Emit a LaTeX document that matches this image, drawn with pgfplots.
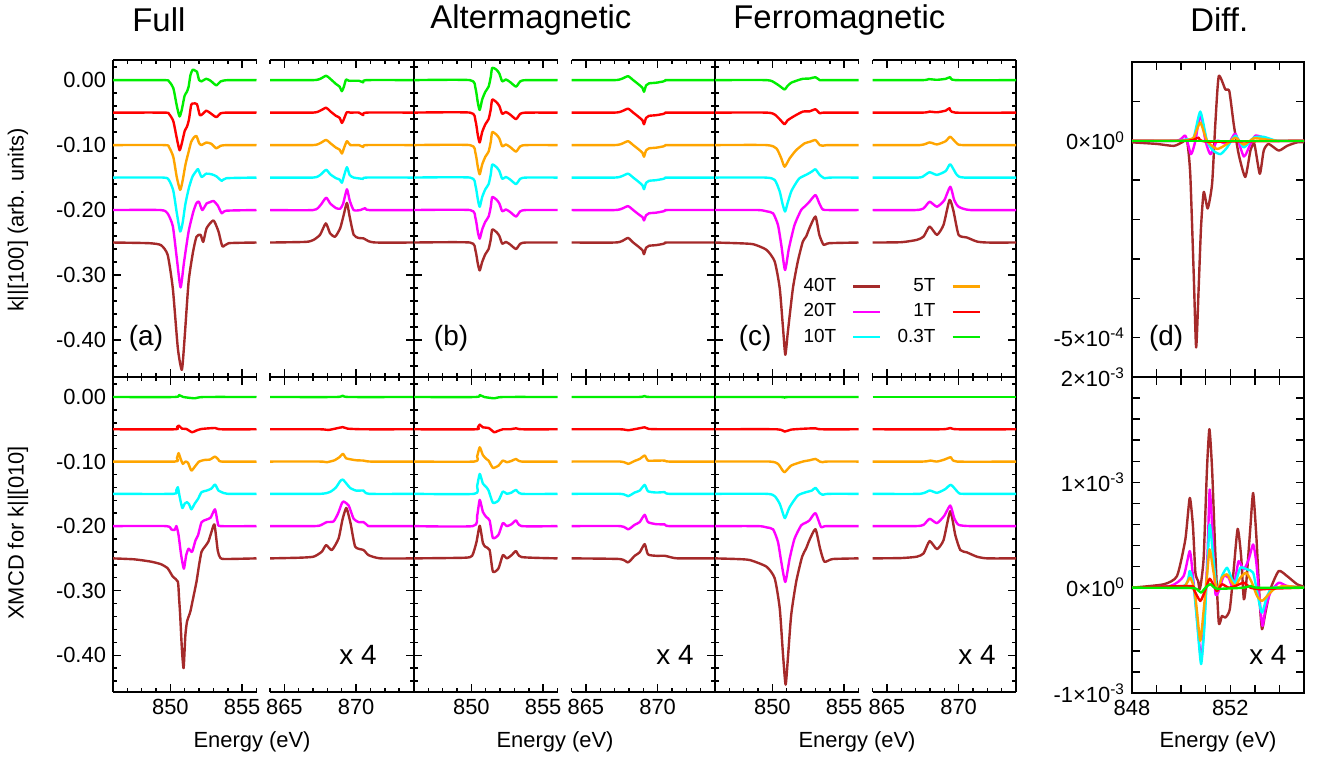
\documentclass[border=0pt]{standalone}
\usepackage{fontspec}
\setmainfont{Liberation Sans}
\usepackage{pgfplots}
\pgfplotsset{compat=1.18}

\definecolor{c40}{HTML}{A52A2A}
\definecolor{c20}{HTML}{FF00FF}
\definecolor{c10}{HTML}{00FFFF}
\definecolor{c5}{HTML}{FFA500}
\definecolor{c1}{HTML}{FF0000}
\definecolor{c03}{HTML}{00EE00}

\pgfplotsset{
  base/.style={
    scale only axis,
    axis line style={line width=1bp,-},
    every tick/.style={black,line width=0.7bp},
    major tick length=4bp, minor tick length=2bp,
    tick label style={font=\fontsize{11}{13}\selectfont},
    scaled ticks=false,
    every axis plot/.append style={line width=1.2bp, line join=round, smooth, tension=0.35},
  },
  spec/.style={base, width=71.75bp, ymin=-0.457, ymax=0.031,
    ytick={-0.4,-0.3,-0.2,-0.1,0},
    minor ytick={-0.44,-0.42,...,0.021},
    axis x line*=box},
  toprow/.style={height=158.5bp, xticklabels={}},
  botrow/.style={height=157.5bp},
  L/.style={xmin=846, xmax=856, xtick={850,855}, minor xtick={846,...,856},
    axis y line*=left, ytick pos=left, yticklabels={}},
  R/.style={xmin=864, xmax=874, xtick={865,870}, minor xtick={864,...,874},
    axis y line*=right, ytick pos=right, yticklabels={}},
  ylab/.style={yticklabels={-0.40,-0.30,-0.20,-0.10,0.00}},
  Llab/.style={xticklabels={850,855}},
  Rlab/.style={xticklabels={865,870}},
  diff/.style={base, width=86bp, xmin=848, xmax=855, xtick={848,...,855},
    minor tick length=4bp},
  s40/.style={color=c40}, s20/.style={color=c20}, s10/.style={color=c10},
  s5/.style={color=c5}, s1/.style={color=c1}, s03/.style={color=c03},
}
\newcommand{\pl}[1]{\fontsize{14}{16}\selectfont #1}

\begin{document}
\begin{tikzpicture}
\useasboundingbox (0,0) rectangle (660bp,381bp);

% ---------------- Full, k || [100] ----------------
\begin{axis}[spec, toprow, L, ylab, at={(56.5bp,192.5bp)}, anchor=south west]
\addplot[s40] coordinates {(846,-0.25) (848.5,-0.251) (849.34,-0.254) (849.81,-0.269) (850.17,-0.321) (850.52,-0.413) (850.8,-0.446) (850.99,-0.397) (851.27,-0.31) (851.58,-0.264) (851.82,-0.241) (852.1,-0.238) (852.29,-0.249) (852.52,-0.228) (853.0,-0.216) (853.35,-0.233) (853.63,-0.256) (854.06,-0.251) (856,-0.25)};
\addplot[s20] coordinates {(846,-0.2) (849.3,-0.2) (849.8,-0.205) (850.17,-0.225) (850.45,-0.275) (850.71,-0.319) (850.95,-0.28) (851.27,-0.233) (851.58,-0.204) (851.8,-0.19) (851.98,-0.187) (852.22,-0.2) (852.52,-0.19) (852.75,-0.188) (853.0,-0.186) (853.3,-0.193) (853.58,-0.205) (853.9,-0.201) (856,-0.2)};
\addplot[s10] coordinates {(846,-0.15) (849.5,-0.15) (849.9,-0.154) (850.2,-0.17) (850.45,-0.205) (850.68,-0.233) (850.85,-0.22) (851.05,-0.19) (851.3,-0.165) (851.55,-0.148) (851.8,-0.14) (851.93,-0.137) (852.17,-0.149) (852.5,-0.144) (852.88,-0.145) (853.2,-0.148) (853.58,-0.155) (853.9,-0.151) (856,-0.15)};
\addplot[s5] coordinates {(846,-0.1) (849.6,-0.1) (849.9,-0.103) (850.2,-0.118) (850.45,-0.15) (850.68,-0.169) (850.85,-0.155) (851.05,-0.13) (851.25,-0.112) (851.45,-0.095) (851.65,-0.088) (851.82,-0.086) (852.0,-0.097) (852.17,-0.1) (852.5,-0.096) (852.85,-0.098) (853.2,-0.105) (853.5,-0.101) (854,-0.1) (856,-0.1)};
\addplot[s1] coordinates {(846,-0.05) (849.6,-0.05) (849.9,-0.052) (850.2,-0.063) (850.45,-0.09) (850.64,-0.108) (850.8,-0.097) (851.0,-0.078) (851.15,-0.072) (851.3,-0.06) (851.45,-0.038) (851.6,-0.036) (851.85,-0.037) (852.05,-0.054) (852.25,-0.052) (852.5,-0.047) (852.8,-0.051) (853.2,-0.057) (853.5,-0.051) (854,-0.05) (856,-0.05)};
\addplot[s03] coordinates {(846,0) (849.6,0) (849.9,-0.002) (850.2,-0.012) (850.45,-0.04) (850.64,-0.056) (850.8,-0.045) (850.99,-0.024) (851.15,-0.018) (851.27,-0.01) (851.4,0.008) (851.55,0.016) (851.7,0.015) (851.85,0.013) (852.0,0.0) (852.15,-0.002) (852.5,0.002) (852.8,-0.001) (853.2,-0.008) (853.5,-0.002) (854.0,0) (856,0)};
\node[font=\pl{}] at (rel axis cs:0.23,0.123) {(a)};
\end{axis}

\begin{axis}[spec, toprow, R, at={(135bp,192.5bp)}, anchor=south west]
\addplot[s40] coordinates {(864,-0.25) (866.5,-0.249) (867.03,-0.246) (867.49,-0.238) (867.89,-0.2205) (868.19,-0.236) (868.54,-0.241) (868.89,-0.228) (869.13,-0.208) (869.36,-0.189) (869.55,-0.21) (869.83,-0.238) (870.17,-0.243) (870.52,-0.2436) (870.87,-0.248) (871.4,-0.25) (874,-0.25)};
\addplot[s20] coordinates {(864,-0.2) (867.0,-0.2) (867.5,-0.193) (867.91,-0.181) (868.2,-0.19) (868.6,-0.197) (868.89,-0.198) (869.1,-0.19) (869.36,-0.168) (869.55,-0.185) (869.83,-0.2) (870.3,-0.2) (870.64,-0.197) (870.9,-0.2) (874,-0.2)};
\addplot[s10] coordinates {(864,-0.15) (867.0,-0.15) (867.5,-0.146) (867.91,-0.138) (868.2,-0.145) (868.6,-0.151) (868.85,-0.153) (869.01,-0.158) (869.15,-0.148) (869.36,-0.134) (869.55,-0.146) (869.83,-0.15) (870.5,-0.152) (870.7,-0.15) (874,-0.15)};
\addplot[s5] coordinates {(864,-0.1) (867.0,-0.1) (867.5,-0.097) (867.91,-0.092) (868.2,-0.097) (868.6,-0.104) (868.85,-0.107) (869.01,-0.113) (869.15,-0.105) (869.36,-0.094) (869.6,-0.1) (870.2,-0.1) (870.5,-0.103) (870.7,-0.1) (874,-0.1)};
\addplot[s1] coordinates {(864,-0.05) (867.0,-0.05) (867.5,-0.047) (867.91,-0.0425) (868.2,-0.048) (868.6,-0.055) (868.85,-0.058) (869.01,-0.066) (869.15,-0.06) (869.35,-0.0495) (869.6,-0.05) (870.2,-0.05) (870.5,-0.054) (870.7,-0.05) (874,-0.05)};
\addplot[s03] coordinates {(864,0) (867.0,0) (867.5,0.002) (867.91,0.0067) (868.2,0.002) (868.6,-0.006) (868.85,-0.01) (869.01,-0.017) (869.15,-0.01) (869.3,0.001) (869.5,-0.001) (870.2,-0.001) (870.5,-0.0035) (870.7,0) (874,0)};
\end{axis}

% ---------------- Altermagnetic, k || [100] ----------------
\begin{axis}[spec, toprow, L, at={(207bp,192.5bp)}, anchor=south west]
\addplot[s40] coordinates {(846,-0.25) (849.9,-0.25) (850.28,-0.262) (850.45,-0.283) (850.58,-0.293) (850.75,-0.28) (850.97,-0.268) (851.2,-0.26) (851.35,-0.245) (851.45,-0.23) (851.75,-0.234) (851.95,-0.24) (852.15,-0.252) (852.4,-0.249) (852.7,-0.253) (853.11,-0.26) (853.4,-0.252) (853.8,-0.25) (856,-0.25)};
\addplot[s20] coordinates {(846,-0.2) (849.9,-0.2) (850.28,-0.212) (850.45,-0.234) (850.58,-0.244) (850.75,-0.23) (850.97,-0.218) (851.2,-0.21) (851.35,-0.195) (851.45,-0.18) (851.75,-0.184) (851.95,-0.19) (852.15,-0.202) (852.4,-0.199) (852.7,-0.203) (853.11,-0.21) (853.4,-0.202) (853.8,-0.2) (856,-0.2)};
\addplot[s10] coordinates {(846,-0.15) (849.9,-0.15) (850.28,-0.162) (850.45,-0.184) (850.58,-0.195) (850.75,-0.18) (850.97,-0.168) (851.2,-0.16) (851.35,-0.145) (851.45,-0.13) (851.75,-0.134) (851.95,-0.14) (852.15,-0.152) (852.4,-0.149) (852.7,-0.153) (853.11,-0.16) (853.4,-0.152) (853.8,-0.15) (856,-0.15)};
\addplot[s5] coordinates {(846,-0.1) (849.9,-0.1) (850.28,-0.112) (850.45,-0.134) (850.58,-0.145) (850.75,-0.13) (850.97,-0.118) (851.2,-0.11) (851.35,-0.095) (851.45,-0.08) (851.75,-0.084) (851.95,-0.09) (852.15,-0.102) (852.4,-0.099) (852.7,-0.103) (853.11,-0.11) (853.4,-0.102) (853.8,-0.1) (856,-0.1)};
\addplot[s1] coordinates {(846,-0.05) (849.9,-0.05) (850.28,-0.062) (850.45,-0.085) (850.58,-0.096) (850.75,-0.08) (850.97,-0.068) (851.2,-0.06) (851.35,-0.045) (851.45,-0.03) (851.75,-0.034) (851.95,-0.04) (852.15,-0.052) (852.4,-0.049) (852.7,-0.053) (853.11,-0.06) (853.4,-0.052) (853.8,-0.05) (856,-0.05)};
\addplot[s03] coordinates {(846,0) (849.9,0) (850.28,-0.012) (850.45,-0.035) (850.58,-0.046) (850.75,-0.03) (850.97,-0.018) (851.2,-0.01) (851.35,0.005) (851.45,0.019) (851.75,0.016) (851.95,0.01) (852.15,-0.002) (852.4,0.001) (852.7,-0.003) (853.11,-0.01) (853.4,-0.002) (853.8,0) (856,0)};
\node[font=\pl{}] at (rel axis cs:0.258,0.123) {(b)};
\end{axis}

\begin{axis}[spec, toprow, R, at={(285.75bp,192.5bp)}, anchor=south west]
\addplot[s40] coordinates {(864,-0.25) (867.0,-0.25) (867.5,-0.248) (867.94,-0.243) (868.3,-0.25) (868.7,-0.257) (868.95,-0.262) (869.05,-0.268) (869.2,-0.258) (869.4,-0.255) (869.9,-0.254) (870.4,-0.252) (870.55,-0.2505) (870.7,-0.25) (874,-0.25)};
\addplot[s20] coordinates {(864,-0.2) (867.0,-0.2) (867.5,-0.198) (867.94,-0.194) (868.3,-0.2) (868.7,-0.207) (868.95,-0.211) (869.05,-0.216) (869.2,-0.208) (869.4,-0.205) (869.9,-0.204) (870.4,-0.202) (870.55,-0.2005) (870.7,-0.2) (874,-0.2)};
\addplot[s10] coordinates {(864,-0.15) (867.0,-0.15) (867.5,-0.148) (867.94,-0.144) (868.3,-0.15) (868.7,-0.157) (868.95,-0.162) (869.05,-0.168) (869.2,-0.158) (869.4,-0.155) (869.9,-0.154) (870.4,-0.152) (870.55,-0.1505) (870.7,-0.15) (874,-0.15)};
\addplot[s5] coordinates {(864,-0.1) (867.0,-0.1) (867.5,-0.098) (867.94,-0.094) (868.3,-0.1) (868.7,-0.107) (868.95,-0.112) (869.05,-0.118) (869.2,-0.108) (869.4,-0.105) (869.9,-0.104) (870.4,-0.102) (870.55,-0.1005) (870.7,-0.1) (874,-0.1)};
\addplot[s1] coordinates {(864,-0.05) (867.0,-0.05) (867.5,-0.048) (867.94,-0.044) (868.3,-0.05) (868.7,-0.057) (868.95,-0.062) (869.05,-0.068) (869.2,-0.058) (869.4,-0.055) (869.9,-0.054) (870.4,-0.052) (870.55,-0.0505) (870.7,-0.05) (874,-0.05)};
\addplot[s03] coordinates {(864,0) (867.0,0) (867.5,0.002) (867.94,0.006) (868.3,0.0) (868.7,-0.007) (868.95,-0.012) (869.05,-0.018) (869.2,-0.008) (869.4,-0.005) (869.9,-0.004) (870.4,-0.002) (870.55,-0.0005) (870.7,0) (874,0)};
\end{axis}

% ---------------- Ferromagnetic, k || [100] ----------------
\begin{axis}[spec, toprow, L, at={(357.5bp,192.5bp)}, anchor=south west]
\addplot[s40] coordinates {(846,-0.25) (847.5,-0.251) (848.66,-0.2526) (849.59,-0.2613) (850.16,-0.2792) (850.51,-0.3203) (850.74,-0.3818) (850.9,-0.4228) (851.08,-0.3869) (851.43,-0.3203) (851.77,-0.2792) (852.12,-0.2485) (852.35,-0.2408) (852.58,-0.228) (853.0,-0.21) (853.27,-0.2382) (853.57,-0.2536) (853.96,-0.251) (856,-0.25)};
\addplot[s20] coordinates {(846,-0.2) (849.0,-0.2) (849.6,-0.202) (850.05,-0.2051) (850.39,-0.2231) (850.62,-0.2538) (850.88,-0.2923) (851.15,-0.259) (851.54,-0.2231) (852.0,-0.2) (852.24,-0.1949) (852.58,-0.1872) (853.0,-0.1769) (853.27,-0.1897) (853.5,-0.199) (853.9,-0.2) (856,-0.2)};
\addplot[s10] coordinates {(846,-0.15) (849.5,-0.15) (850.16,-0.1536) (850.51,-0.1715) (850.7,-0.19) (850.88,-0.2023) (851.05,-0.19) (851.31,-0.1715) (851.6,-0.16) (851.89,-0.151) (852.47,-0.1444) (852.8,-0.14) (853.0,-0.1372) (853.3,-0.146) (853.62,-0.151) (854,-0.15) (856,-0.15)};
\addplot[s5] coordinates {(846,-0.1) (849.6,-0.1) (850.28,-0.1051) (850.62,-0.1205) (850.85,-0.1333) (851.2,-0.1205) (851.66,-0.1077) (852.24,-0.0974) (852.6,-0.095) (853.0,-0.0923) (853.3,-0.1) (853.5,-0.101) (853.9,-0.1) (856,-0.1)};
\addplot[s1] coordinates {(846,-0.05) (849.6,-0.05) (850.16,-0.053) (850.5,-0.06) (850.85,-0.068) (851.05,-0.062) (851.54,-0.0551) (852.12,-0.0485) (852.6,-0.048) (853.0,-0.0449) (853.3,-0.051) (853.6,-0.05) (856,-0.05)};
\addplot[s03] coordinates {(846,0) (849.6,0) (850.16,-0.004) (850.5,-0.009) (850.85,-0.0144) (851.05,-0.009) (851.31,-0.004) (851.8,0.0) (852.12,0.002) (852.6,0.0025) (853.0,0.0045) (853.3,0.0) (853.6,0.0) (856,0)};
\node[font=\pl{}] at (rel axis cs:0.279,0.123) {(c)};
\end{axis}

\begin{axis}[spec, toprow, R, at={(436.25bp,192.5bp)}, anchor=south west,
  legend columns=2, legend plot pos=right, legend cell align=right,
  legend image code/.code={\draw[#1,line width=1.2bp] (0bp,0bp) -- (13.5bp,0bp);},
  legend style={draw=none, fill=none, at={(0.80,0.331)}, anchor=north east,
    font=\fontsize{9.5}{11}\selectfont, row sep=2.5bp,
    nodes={inner sep=1bp},
    /tikz/every even column/.append style={column sep=7bp},
    /tikz/every odd column/.append style={column sep=7bp}}]
\addlegendimage{s40}\addlegendentry{40T}
\addlegendimage{s5}\addlegendentry{5T}
\addlegendimage{s20}\addlegendentry{20T}
\addlegendimage{s1}\addlegendentry{1T}
\addlegendimage{s10}\addlegendentry{10T}
\addlegendimage{s03}\addlegendentry{0.3T}
\addplot[s40, forget plot] coordinates {(864,-0.25) (866.0,-0.2495) (867.09,-0.2459) (867.56,-0.2408) (867.98,-0.2254) (868.49,-0.2382) (868.95,-0.2228) (869.37,-0.1844) (869.65,-0.2023) (870.0,-0.2382) (870.58,-0.2423) (871.28,-0.2485) (872,-0.25) (874,-0.25)};
\addplot[s20, forget plot] coordinates {(864,-0.2) (867.0,-0.2) (867.56,-0.1974) (867.98,-0.1872) (868.49,-0.1949) (869.0,-0.185) (869.42,-0.1641) (869.7,-0.185) (870.0,-0.1949) (870.81,-0.2) (874,-0.2)};
\addplot[s10, forget plot] coordinates {(864,-0.15) (867.2,-0.15) (867.6,-0.147) (867.98,-0.1418) (868.49,-0.1459) (869.1,-0.14) (869.42,-0.1295) (869.88,-0.1459) (870.4,-0.15) (874,-0.15)};
\addplot[s5, forget plot] coordinates {(864,-0.1) (867.3,-0.1) (867.98,-0.0959) (868.49,-0.099) (869.1,-0.094) (869.42,-0.0872) (869.88,-0.0974) (870.3,-0.1) (874,-0.1)};
\addplot[s1, forget plot] coordinates {(864,-0.05) (867.5,-0.05) (867.98,-0.0485) (868.49,-0.0495) (869.1,-0.047) (869.37,-0.0433) (869.77,-0.05) (874,-0.05)};
\addplot[s03, forget plot] coordinates {(864,0) (867.5,0) (867.91,0.0015) (868.5,0.0005) (869.1,0.002) (869.42,0.0046) (869.77,0) (874,0)};
\end{axis}

% ---------------- Full, k || [010] ----------------
\begin{axis}[spec, botrow, L, ylab, Llab, at={(56.5bp,35bp)}, anchor=south west]
\addplot[s40] coordinates {(846,-0.25) (847.5,-0.2515) (848.63,-0.255) (849.34,-0.259) (849.81,-0.2654) (850.17,-0.2783) (850.52,-0.286) (850.6,-0.31) (850.68,-0.3375) (850.8,-0.39) (850.92,-0.42) (851.04,-0.37) (851.16,-0.3478) (851.39,-0.3324) (851.6,-0.31) (851.82,-0.286) (852.0,-0.26) (852.17,-0.2397) (852.4,-0.232) (852.64,-0.2243) (852.85,-0.21) (853.07,-0.1975) (853.3,-0.238) (853.47,-0.249) (853.8,-0.251) (856,-0.25)};
\addplot[s20] coordinates {(846,-0.2) (849.7,-0.2) (850.05,-0.205) (850.3,-0.206) (850.42,-0.2) (850.57,-0.214) (850.75,-0.245) (850.94,-0.266) (851.1,-0.245) (851.27,-0.235) (851.51,-0.24) (851.75,-0.222) (851.93,-0.214) (852.17,-0.194) (852.5,-0.19) (852.8,-0.187) (853.11,-0.174) (853.3,-0.195) (853.5,-0.2) (856,-0.2)};
\addplot[s10] coordinates {(846,-0.15) (850.2,-0.15) (850.4,-0.145) (850.52,-0.1397) (850.65,-0.155) (850.83,-0.172) (851.0,-0.165) (851.15,-0.163) (851.3,-0.166) (851.46,-0.174) (851.7,-0.165) (851.93,-0.1577) (852.17,-0.1474) (852.52,-0.145) (852.85,-0.142) (853.11,-0.1356) (853.35,-0.145) (853.58,-0.1475) (854,-0.15) (856,-0.15)};
\addplot[s5] coordinates {(846,-0.1) (850.3,-0.1) (850.45,-0.095) (850.57,-0.087) (850.7,-0.095) (850.87,-0.1036) (851.05,-0.1) (851.23,-0.102) (851.46,-0.114) (851.7,-0.108) (852.0,-0.1) (852.41,-0.0974) (852.75,-0.097) (853.11,-0.0923) (853.35,-0.097) (853.58,-0.1) (856,-0.1)};
\addplot[s1] coordinates {(846,-0.05) (850.3,-0.05) (850.45,-0.047) (850.59,-0.0443) (850.8,-0.049) (851.11,-0.0495) (851.51,-0.0546) (851.8,-0.052) (852.17,-0.0495) (853.11,-0.048) (853.5,-0.05) (856,-0.05)};
\addplot[s03] coordinates {(846,0) (850.3,0) (850.6,0.003) (850.9,0) (851.7,-0.002) (852.3,0) (856,0)};
\end{axis}

\begin{axis}[spec, botrow, R, Rlab, at={(135bp,35bp)}, anchor=south west]
\addplot[s40] coordinates {(864,-0.25) (866.0,-0.249) (867.03,-0.2474) (867.61,-0.2397) (867.91,-0.2294) (868.31,-0.2371) (868.78,-0.2191) (869.05,-0.19) (869.31,-0.1718) (869.5,-0.185) (869.64,-0.1985) (869.94,-0.232) (870.52,-0.2371) (870.87,-0.245) (871.69,-0.25) (874,-0.25)};
\addplot[s20] coordinates {(864,-0.2) (867.0,-0.2) (867.49,-0.199) (867.96,-0.1938) (868.43,-0.1928) (868.75,-0.18) (869.0,-0.165) (869.13,-0.162) (869.48,-0.168) (869.83,-0.1887) (870.2,-0.194) (870.52,-0.1938) (870.8,-0.199) (871.0,-0.2) (874,-0.2)};
\addplot[s10] coordinates {(864,-0.15) (867.5,-0.15) (868.19,-0.147) (868.6,-0.14) (868.9,-0.13) (869.08,-0.128) (869.36,-0.135) (869.59,-0.141) (870.0,-0.145) (870.52,-0.145) (870.9,-0.15) (874,-0.15)};
\addplot[s5] coordinates {(864,-0.1) (867.5,-0.1) (867.96,-0.101) (868.5,-0.098) (868.85,-0.093) (869.08,-0.088) (869.3,-0.095) (869.48,-0.096) (870.0,-0.098) (870.52,-0.0985) (871.0,-0.1) (874,-0.1)};
\addplot[s1] coordinates {(864,-0.05) (867.5,-0.05) (868.1,-0.051) (869.06,-0.0467) (869.4,-0.049) (870.5,-0.05) (874,-0.05)};
\addplot[s03] coordinates {(864,0) (868.6,0) (869.06,0.002) (869.5,0) (874,0)};
\node[font=\pl{}] at (rel axis cs:0.613,0.117) {x 4};
\end{axis}

% ---------------- Altermagnetic, k || [010] ----------------
\begin{axis}[spec, botrow, L, Llab, at={(207bp,35bp)}, anchor=south west]
\addplot[s40] coordinates {(846,-0.25) (849.5,-0.249) (850.05,-0.246) (850.35,-0.225) (850.58,-0.1995) (850.8,-0.226) (850.97,-0.232) (851.27,-0.2371) (851.5,-0.2706) (851.89,-0.2654) (852.19,-0.245) (852.47,-0.25) (852.8,-0.245) (853.11,-0.2387) (853.5,-0.248) (856,-0.25)};
\addplot[s20] coordinates {(846,-0.2) (850.1,-0.2) (850.4,-0.184) (850.58,-0.1593) (850.8,-0.178) (851.04,-0.1861) (851.27,-0.1912) (851.5,-0.2185) (851.89,-0.2134) (852.19,-0.1954) (852.47,-0.2) (852.8,-0.197) (853.11,-0.1912) (853.5,-0.2) (856,-0.2)};
\addplot[s10] coordinates {(846,-0.15) (850.2,-0.15) (850.4,-0.138) (850.58,-0.1191) (850.8,-0.134) (851.04,-0.1397) (851.2,-0.145) (851.5,-0.1639) (851.89,-0.1603) (852.19,-0.1464) (852.47,-0.15) (852.8,-0.148) (853.11,-0.1438) (853.5,-0.15) (856,-0.15)};
\addplot[s5] coordinates {(846,-0.1) (850.2,-0.1) (850.4,-0.092) (850.58,-0.0779) (850.8,-0.09) (851.04,-0.096) (851.2,-0.0985) (851.5,-0.1098) (851.89,-0.1062) (852.19,-0.0985) (852.47,-0.101) (852.8,-0.099) (853.11,-0.096) (853.5,-0.1) (856,-0.1)};
\addplot[s1] coordinates {(846,-0.05) (850.3,-0.05) (850.45,-0.047) (850.58,-0.0428) (850.8,-0.047) (851.2,-0.048) (851.59,-0.0546) (851.8,-0.053) (852.19,-0.05) (852.7,-0.05) (853.11,-0.0485) (853.5,-0.05) (856,-0.05)};
\addplot[s03] coordinates {(846,0) (850.3,0) (850.58,0.003) (850.9,0) (851.6,-0.002) (852.2,0) (856,0)};
\end{axis}

\begin{axis}[spec, botrow, R, Rlab, at={(285.75bp,35bp)}, anchor=south west]
\addplot[s40] coordinates {(864,-0.25) (867.36,-0.251) (867.94,-0.2562) (868.4,-0.246) (868.75,-0.2407) (869.1,-0.2279) (869.33,-0.2438) (869.91,-0.246) (870.49,-0.246) (871.06,-0.249) (871.5,-0.25) (874,-0.25)};
\addplot[s20] coordinates {(864,-0.2) (867.4,-0.2) (867.94,-0.2051) (868.4,-0.198) (868.75,-0.1938) (869.1,-0.1825) (869.33,-0.1938) (869.9,-0.197) (870.49,-0.1974) (870.8,-0.2) (874,-0.2)};
\addplot[s10] coordinates {(864,-0.15) (867.4,-0.15) (867.94,-0.1536) (868.4,-0.148) (868.75,-0.145) (869.1,-0.1361) (869.33,-0.146) (869.9,-0.148) (870.49,-0.1474) (870.8,-0.15) (874,-0.15)};
\addplot[s5] coordinates {(864,-0.1) (867.4,-0.1) (867.94,-0.1036) (868.4,-0.099) (868.75,-0.096) (869.1,-0.0907) (869.33,-0.0985) (869.9,-0.0985) (870.49,-0.0985) (870.8,-0.1) (874,-0.1)};
\addplot[s1] coordinates {(864,-0.05) (867.4,-0.05) (867.94,-0.0515) (868.6,-0.049) (869.1,-0.047) (869.4,-0.0495) (870.5,-0.05) (874,-0.05)};
\addplot[s03] coordinates {(864,0) (868.6,0) (869.1,0.0015) (869.5,0) (874,0)};
\node[font=\pl{}] at (rel axis cs:0.721,0.117) {x 4};
\end{axis}

% ---------------- Ferromagnetic, k || [010] ----------------
\begin{axis}[spec, botrow, L, Llab, at={(357.5bp,35bp)}, anchor=south west]
\addplot[s40] coordinates {(846,-0.25) (847.5,-0.251) (848.43,-0.2526) (849.59,-0.2629) (850.16,-0.2809) (850.51,-0.3272) (850.74,-0.3993) (850.92,-0.4456) (851.08,-0.4044) (851.31,-0.3375) (851.66,-0.286) (852.07,-0.2474) (852.35,-0.2346) (852.58,-0.2217) (853.0,-0.2047) (853.32,-0.2346) (853.62,-0.2551) (854.2,-0.251) (856,-0.25)};
\addplot[s20] coordinates {(846,-0.2) (849.0,-0.2) (849.6,-0.202) (850.05,-0.2051) (850.39,-0.2247) (850.62,-0.2556) (850.9,-0.2865) (851.2,-0.2505) (851.54,-0.2196) (852.0,-0.199) (852.3,-0.195) (852.58,-0.1912) (853.0,-0.1799) (853.39,-0.2015) (853.73,-0.2) (856,-0.2)};
\addplot[s10] coordinates {(846,-0.15) (849.6,-0.15) (850.16,-0.1536) (850.51,-0.1654) (850.7,-0.178) (850.88,-0.1876) (851.2,-0.1706) (851.77,-0.1526) (852.35,-0.1474) (852.75,-0.145) (853.0,-0.1407) (853.3,-0.149) (853.5,-0.1515) (853.9,-0.15) (856,-0.15)};
\addplot[s5] coordinates {(846,-0.1) (849.8,-0.1) (850.39,-0.1036) (850.6,-0.11) (850.85,-0.1165) (851.31,-0.1062) (852.12,-0.1) (852.6,-0.098) (853.0,-0.0959) (853.3,-0.1) (853.5,-0.101) (853.8,-0.1) (856,-0.1)};
\addplot[s1] coordinates {(846,-0.05) (850.3,-0.05) (850.85,-0.0536) (851.3,-0.0505) (852.3,-0.049) (853.0,-0.0485) (853.4,-0.05) (856,-0.05)};
\addplot[s03] coordinates {(846,0) (850.5,0) (850.85,-0.001) (851.2,0) (856,0)};
\end{axis}

\begin{axis}[spec, botrow, R, Rlab, at={(436.25bp,35bp)}, anchor=south west]
\addplot[s40] coordinates {(864,-0.25) (866.0,-0.2495) (867.09,-0.2474) (867.56,-0.2423) (867.98,-0.2232) (868.49,-0.2356) (868.95,-0.2217) (869.42,-0.1769) (869.77,-0.214) (870.12,-0.2371) (870.58,-0.2407) (871.28,-0.2474) (872,-0.25) (874,-0.25)};
\addplot[s20] coordinates {(864,-0.2) (867.0,-0.2) (867.56,-0.198) (867.98,-0.1887) (868.49,-0.1954) (869.0,-0.184) (869.42,-0.1681) (869.7,-0.188) (870.0,-0.198) (870.81,-0.2) (874,-0.2)};
\addplot[s10] coordinates {(864,-0.15) (867.3,-0.15) (867.98,-0.1449) (868.49,-0.1485) (869.05,-0.143) (869.47,-0.1361) (870.0,-0.1485) (870.4,-0.15) (874,-0.15)};
\addplot[s5] coordinates {(864,-0.1) (867.5,-0.1) (868.02,-0.0985) (868.49,-0.1) (869.0,-0.097) (869.47,-0.0933) (869.88,-0.1) (874,-0.1)};
\addplot[s1] coordinates {(864,-0.05) (868.8,-0.05) (869.42,-0.048) (869.9,-0.05) (874,-0.05)};
\addplot[s03] coordinates {(864,0) (874,0)};
\node[font=\pl{}] at (rel axis cs:0.728,0.117) {x 4};
\end{axis}

% ---------------- Differences ----------------
\begin{axis}[diff, height=157.5bp, at={(566bp,192.5bp)}, anchor=south west,
  ymin=-6e-4, ymax=2e-4, xticklabels={},
  ytick={-5e-4,-4e-4,-3e-4,-2e-4,-1e-4,0,1e-4},
  yticklabels={{-5×10\textsuperscript{-4}},{},{},{},{},{0×10\textsuperscript{0}},{}}]
\addplot[s40] coordinates {(848,-4e-6) (849.0,-8e-6) (849.7,-1.3e-5) (850.04,-4e-6) (850.24,0) (850.37,-8.4e-5) (850.51,-3.36e-4) (850.61,-5.25e-4) (850.71,-3.78e-4) (850.81,-2.18e-4) (850.92,-1.30e-4) (851.08,-1.72e-4) (851.26,-1.09e-4) (851.39,4.2e-5) (851.53,1.64e-4) (851.8,1.30e-4) (851.96,1.26e-4) (852.14,4.2e-5) (852.34,-3.4e-5) (852.61,-9.2e-5) (852.82,-2.5e-5) (852.98,-8e-6) (853.2,-8.4e-5) (853.36,-2.5e-5) (853.56,-8e-6) (853.97,-2.5e-5) (854.31,-1.3e-5) (854.72,-4e-6) (855,-4e-6)};
\addplot[s20] coordinates {(848,0) (849.83,0) (850.17,1.3e-5) (850.4,-3.4e-5) (850.58,0) (850.78,6.7e-5) (850.99,0) (851.19,-3.4e-5) (851.46,0) (851.66,-4e-6) (851.93,-8e-6) (852.21,1.8e-5) (852.55,-4.0e-5) (852.82,-8e-6) (853.02,1.3e-5) (853.36,8e-6) (853.63,0) (855,0)};
\addplot[s10] coordinates {(848,0) (849.83,0) (850.24,4e-6) (850.51,8e-6) (850.78,7.4e-5) (851.05,0) (851.3,-2.5e-5) (851.6,-3.4e-5) (851.87,-1.7e-5) (852.21,1.3e-5) (852.55,-1.7e-5) (852.95,8e-6) (853.36,1.0e-5) (853.9,0) (855,0)};
\addplot[s5] coordinates {(848,0) (850.0,0) (850.24,2e-6) (850.51,8e-6) (850.78,4.6e-5) (851.05,0) (851.46,-2.1e-5) (851.87,-8e-6) (852.21,8e-6) (852.55,-1.0e-5) (852.95,6e-6) (853.36,4e-6) (853.9,0) (855,0)};
\addplot[s1] coordinates {(848,0) (850.3,0) (850.71,8e-6) (851.05,-2e-6) (855,0)};
\addplot[s03] coordinates {(848,0) (855,0)};
\node[font=\pl{}] at (rel axis cs:0.198,0.124) {(d)};
\end{axis}

\begin{axis}[diff, height=158bp, at={(566bp,34.5bp)}, anchor=south west,
  ymin=-1e-3, ymax=2e-3, xticklabels={848,,,,852,,,},
  ytick={-1e-3,0,1e-3,2e-3},
  minor ytick={-8e-4,-6e-4,-4e-4,-2e-4,2e-4,4e-4,6e-4,8e-4,1.2e-3,1.4e-3,1.6e-3,1.8e-3},
  yticklabels={{-1×10\textsuperscript{-3}},{0×10\textsuperscript{0}},{1×10\textsuperscript{-3}},{2×10\textsuperscript{-3}}}]
\addplot[s40] coordinates {(848,0) (849.29,3.2e-5) (849.83,1.1e-4) (850.17,4.57e-4) (850.35,8.52e-4) (850.48,5.84e-4) (850.58,1.42e-4) (850.69,6.3e-5) (850.75,-1.6e-5) (850.82,6.3e-5) (850.92,3.0e-4) (851.05,1.12e-3) (851.15,1.505e-3) (851.26,1.12e-3) (851.39,3.31e-4) (851.53,-3.31e-4) (851.66,-2.68e-4) (851.8,-2.84e-4) (851.98,-2.05e-4) (852.14,1.74e-4) (852.3,5.58e-4) (852.44,3.0e-4) (852.55,-1.1e-4) (852.65,4.7e-5) (852.82,5.84e-4) (852.93,8.99e-4) (853.06,4.89e-4) (853.2,-1.42e-4) (853.29,-3.94e-4) (853.43,-2.37e-4) (853.63,-1.6e-5) (853.97,1.58e-4) (854.31,1.1e-4) (854.72,3.2e-5) (855,1e-5)};
\addplot[s20] coordinates {(848,0) (849.56,1.6e-5) (850.1,1.1e-4) (850.35,3.47e-4) (850.48,1.1e-4) (850.61,-2.05e-4) (850.81,-6.78e-4) (850.94,-3.31e-4) (851.08,3.63e-4) (851.16,9.31e-4) (851.26,5.84e-4) (851.39,-4.7e-5) (851.53,-3.2e-5) (851.73,1.1e-4) (851.93,9.5e-5) (852.07,1.6e-5) (852.21,9.5e-5) (852.34,2.52e-4) (852.55,1.74e-4) (852.75,2.68e-4) (852.93,4.1e-4) (853.06,2.37e-4) (853.2,-1.42e-4) (853.31,-3.63e-4) (853.43,-2.05e-4) (853.63,-4.7e-5) (853.97,4.7e-5) (854.31,1.6e-5) (855,0)};
\addplot[s10] coordinates {(848,0) (850.1,1.6e-5) (850.35,1.58e-4) (850.51,1.6e-5) (850.65,-3.31e-4) (850.81,-7.26e-4) (850.94,-3.94e-4) (851.05,1.1e-4) (851.16,5.99e-4) (851.3,3.0e-4) (851.46,-3.2e-5) (851.66,1.1e-4) (851.87,1.89e-4) (852.07,7.9e-5) (852.21,4.7e-5) (852.41,1.89e-4) (852.68,1.74e-4) (852.93,1.42e-4) (853.12,-7.9e-5) (853.29,-2.37e-4) (853.5,-7.9e-5) (853.77,0) (855,0)};
\addplot[s5] coordinates {(848,0) (850.0,5e-6) (850.24,4.7e-5) (850.37,9.5e-5) (850.54,-1.6e-5) (850.65,-2.37e-4) (850.78,-5.05e-4) (850.92,-2.05e-4) (851.05,1.1e-4) (851.16,3.63e-4) (851.3,1.74e-4) (851.46,-3.2e-5) (851.66,9.5e-5) (851.87,1.26e-4) (852.07,4.7e-5) (852.21,1.6e-5) (852.41,9.5e-5) (852.65,1.42e-4) (852.88,4.7e-5) (853.09,-7.9e-5) (853.29,-1.26e-4) (853.5,-7.9e-5) (853.77,-1.6e-5) (854.17,1.6e-5) (855,0)};
\addplot[s1] coordinates {(848,0) (850.37,1.6e-5) (850.51,-1.6e-5) (850.78,-1.26e-4) (850.99,-1.6e-5) (851.16,8.5e-5) (851.33,1.6e-5) (851.46,-3.2e-5) (851.66,3.2e-5) (851.93,0) (852.21,1.6e-5) (852.55,4.7e-5) (852.82,0) (853.22,-1.6e-5) (853.63,-1e-5) (855,0)};
\addplot[s03] coordinates {(848,0) (850.37,-3e-6) (850.65,-1.6e-5) (850.81,-4.7e-5) (850.99,0) (851.19,3.2e-5) (851.46,-1e-5) (852.55,0) (852.82,1.6e-5) (853.09,0) (855,0)};
\node[font=\pl{}] at (rel axis cs:0.79,0.12) {x 4};
\end{axis}

% titles, axis labels
\begin{scope}[every node/.style={inner sep=0pt}]
\node[anchor=west, font=\fontsize{16.5}{19}\selectfont] at (66bp,371bp) {Full};
\node[anchor=west, font=\fontsize{16.5}{19}\selectfont] at (215bp,371bp) {Altermagnetic};
\node[anchor=west, font=\fontsize{16.5}{19}\selectfont] at (366.5bp,371bp) {Ferromagnetic};
\node[anchor=west, font=\fontsize{16.5}{19}\selectfont] at (595bp,371bp) {Diff.};
\node[rotate=90, font=\fontsize{11}{13}\selectfont] at (9bp,271bp) {k||[100] (arb. units)};
\node[rotate=90, font=\fontsize{11}{13}\selectfont] at (9bp,114.5bp) {XMCD for k||[010]};
\node[font=\fontsize{11}{13}\selectfont] at (126bp,10bp) {Energy (eV)};
\node[font=\fontsize{11}{13}\selectfont] at (277.5bp,10bp) {Energy (eV)};
\node[font=\fontsize{11}{13}\selectfont] at (428.5bp,10bp) {Energy (eV)};
\node[font=\fontsize{11}{13}\selectfont] at (609bp,10bp) {Energy (eV)};
\end{scope}
\end{tikzpicture}
\end{document}
